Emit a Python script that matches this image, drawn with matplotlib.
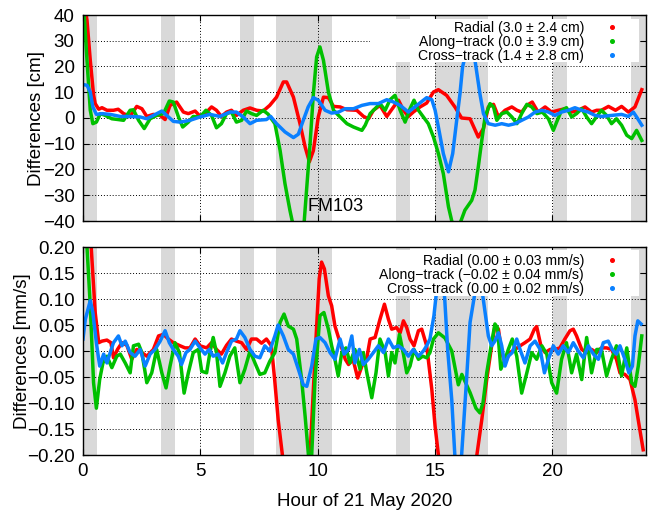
import numpy as np
import matplotlib
matplotlib.use('Agg')
import matplotlib.pyplot as plt
from matplotlib.lines import Line2D
from matplotlib.patches import Rectangle
from matplotlib.ticker import FuncFormatter, MultipleLocator

plt.rcParams['font.family'] = ['Liberation Sans', 'DejaVu Sans']
plt.rcParams['font.size'] = 13.5

# shaded intervals, hours
shade_hours = [(0.0, 0.58), (3.32, 3.92), (6.69, 7.29), (8.23, 10.61),
               (13.34, 13.94), (15.0, 17.26), (20.03, 20.63), (23.36, 24.0)]

# position differences [cm], (hour, value)
pos_radial = [(0, 48), (0.17, 38), (0.31, 22.4), (0.45, 9), (0.52, 5.6), (0.67, 3.4), (0.81, 4.0),
              (1.02, 3), (1.3, 3), (1.5, 3.4), (1.73, 1.7), (2.01, 0.6), (2.29, 4.5), (2.51, 3.6),
              (2.72, 0.6), (3.0, 1.4), (3.29, 1), (3.5, -0.6), (3.71, 4.9), (3.99, 6.2), (4.28, 2.3),
              (4.49, 1.7), (4.78, 2.7), (5.0, 0.6), (5.27, 2.3), (5.48, 4.3), (5.69, 3), (5.9, 0.6),
              (6.12, 2.3), (6.33, 3), (6.54, 1), (6.83, 3), (7.12, 3.9), (7.4, 3), (7.68, 2.7),
              (7.96, 4.9), (8.25, 8.1), (8.54, 14), (8.68, 14), (8.97, 8.1), (9.25, -2.2),
              (9.47, -11.3), (9.65, -17), (9.82, -12.7), (10.03, 0.4), (10.25, 8.1), (10.46, 7.9),
              (10.68, 4.5), (10.96, 4.3), (11.25, 3.2), (11.67, 3), (11.96, 0.6), (12.17, -0.3),
              (12.38, 3), (12.66, 4.9), (12.95, 0.6), (13.24, 4.3), (13.45, 6.9), (13.66, 3),
              (13.87, 0.6), (14.08, 2.3), (14.37, 4.3), (14.65, 5.8), (14.94, 10.1), (15.15, 11),
              (15.5, 8.8), (15.86, 4.2), (16.14, 0), (16.5, -0.3), (16.85, -7.4), (17.07, -4.1),
              (17.28, 4.3), (17.5, 5.3), (17.71, 0.4), (17.99, 3), (18.28, 4.3), (18.5, 3),
              (18.7, 2.3), (18.92, 4.9), (19.15, 6.2), (19.4, 2.3), (19.7, 4.3), (19.98, 2.3),
              (20.26, 3), (20.54, 3.6), (20.83, 2.3), (21.11, 3), (21.4, 4.3), (21.68, 2.3),
              (21.9, 3), (22.1, 3), (22.4, 4.5), (22.7, 3), (22.96, 4.5), (23.25, 2.3),
              (23.53, 4.3), (23.82, 11)]

pos_along = [(0, 48), (0.17, 22.4), (0.31, 3), (0.42, -2.2), (0.57, -1.6), (0.74, 1.7), (0.95, 1),
             (1.23, -0.3), (1.5, -0.6), (1.73, -0.9), (2.01, 3), (2.15, 3.2), (2.37, -0.9),
             (2.61, -4.1), (2.86, -0.3), (3.14, 1), (3.43, 1.7), (3.68, 6.6), (3.85, 6.2),
             (4.07, 0.4), (4.25, -3.5), (4.49, -1.6), (4.7, 0.6), (4.99, 0.4), (5.24, 3), (5.48, 1),
             (5.69, -3.8), (5.9, -2.2), (6.12, 1.7), (6.33, 2.3), (6.54, -1.6), (6.76, -0.9),
             (6.97, 2.7), (7.18, 1.7), (7.4, 1), (7.68, 3), (7.89, 1.5), (8.18, -2.2), (8.4, -12.5),
             (8.61, -25.5), (8.82, -35.8), (8.93, -40.5), (9.15, -48), (9.39, -45), (9.53, -28),
             (9.68, -10), (9.82, 9.4), (9.96, 23.7), (10.1, 27.6), (10.25, 22.4), (10.46, 10.1),
             (10.68, 3), (10.96, 0.4), (11.25, -2.2), (11.53, -3.5), (11.89, -4.8), (12.03, -2.8),
             (12.24, 1.7), (12.45, 3.6), (12.66, 5.6), (12.88, 3), (13.09, 7.1), (13.3, 8.8),
             (13.52, 3), (13.73, -1.6), (13.94, 3.6), (14.11, 6.9), (14.3, 3), (14.51, 0.4),
             (14.72, -2.2), (14.94, -7.4), (15.15, -13.8), (15.36, -21.6), (15.58, -34.5),
             (15.72, -40), (15.9, -45), (16.11, -40), (16.28, -35.8), (16.57, -32), (16.71, -28),
             (16.85, -19), (17.0, -8.7), (17.14, 0.4), (17.35, 5.6), (17.5, 4.3), (17.64, -0.9),
             (17.85, 1.7), (18.07, 2.3), (18.28, 0.4), (18.5, -2.2), (18.7, 1.7), (18.92, 5.3),
             (19.13, 4.3), (19.35, 1.7), (19.58, 2.3), (19.84, -0.3), (20.05, -4.8), (20.19, -1.6),
             (20.4, 3), (20.61, 4), (20.83, 0.4), (21.04, 1.7), (21.26, 3.6), (21.47, 0.4),
             (21.68, -2.2), (21.9, 0.6), (22.1, 3), (22.32, 1), (22.53, -2.2), (22.74, -0.3),
             (22.96, -2.8), (23.18, -6.7), (23.39, -8), (23.6, -4.8), (23.82, -8.7)]

pos_cross = [(0, 13), (0.17, 12.7), (0.31, 10.1), (0.42, 4.3), (0.57, 1.4), (0.81, 1.7), (1.16, 1.4),
             (1.59, 0.6), (2.01, 0.6), (2.44, 0.4), (2.72, -0.3), (3.0, 1), (3.36, 2.7), (3.57, 1),
             (3.85, -1.3), (4.14, -1.6), (4.56, -0.9), (4.99, 0.4), (5.41, 1.4), (5.84, 0.6),
             (6.26, 2.3), (6.54, 2.3), (6.83, 0.4), (7.12, -2.2), (7.4, -0.9), (7.82, -0.6),
             (8.0, 0.6), (8.25, -2.2), (8.61, -5.4), (8.97, -7.6), (9.18, -6.3), (9.39, -0.9),
             (9.6, 4.3), (9.82, 7.9), (10.03, 6.9), (10.32, 3), (10.6, 1.9), (10.89, 2.3),
             (11.18, 3.6), (11.53, 3.6), (11.89, 4.9), (12.24, 5.6), (12.59, 5.6), (12.95, 7.1),
             (13.24, 6.2), (13.52, 4.9), (13.87, 2.3), (14.23, 4.9), (14.65, 7.9), (14.87, 7.1),
             (15.01, 3), (15.15, -3.5), (15.36, -13.8), (15.58, -20.9), (15.76, -13.8),
             (15.93, -0.9), (16.07, 9.4), (16.18, 19.8), (16.45, 30), (16.62, 28), (16.71, 22.4),
             (16.92, 9.4), (17.07, 1.7), (17.28, -2.2), (17.57, -2.8), (17.85, -2.2), (18.14, -2.8),
             (18.42, -2.2), (18.7, -0.9), (18.99, 0.4), (19.27, 2.3), (19.56, 3), (19.84, 2.3),
             (20.12, 1), (20.4, 2.3), (20.69, 3), (20.97, 4), (21.26, 3), (21.54, 2.3), (21.83, 1),
             (22.1, 0.6), (22.53, 1), (22.96, 1.4), (23.25, 0.6), (23.46, 2.3), (23.65, -0.3),
             (23.82, -2.8)]

# velocity differences [mm/s], (hour, value)
vel_radial = [(0, 0.6), (0.2, 0.3), (0.31, 0.23), (0.38, 0.177), (0.52, 0.074), (0.67, 0.016),
              (0.81, 0.019), (1.02, 0.021), (1.19, 0.016), (1.3, -0.013), (1.47, 0.003),
              (1.66, 0.016), (1.87, 0.011), (2.08, -0.016), (2.29, 0.003), (2.51, -0.003),
              (2.72, -0.01), (3.0, 0.003), (3.22, 0.029), (3.43, 0.032), (3.64, 0.023),
              (3.85, 0.016), (4.14, 0.01), (4.35, 0.006), (4.56, 0.006), (4.78, 0.023),
              (4.99, 0.01), (5.27, 0.006), (5.48, 0.016), (5.69, 0.003), (5.9, -0.006),
              (6.12, 0.011), (6.33, 0.023), (6.54, 0.019), (6.76, 0.016), (6.97, 0.003),
              (7.18, 0.023), (7.4, 0.023), (7.61, 0.015), (7.82, 0.023), (8.03, 0.01),
              (8.17, -0.055), (8.32, -0.132), (8.5, -0.2), (8.8, -0.3), (9.1, -0.38), (9.4, -0.33),
              (9.68, -0.2), (9.82, -0.074), (9.96, 0.048), (10.07, 0.139), (10.17, 0.171),
              (10.29, 0.158), (10.46, 0.106), (10.6, 0.087), (10.74, 0.048), (10.96, 0.016),
              (11.18, -0.016), (11.32, -0.026), (11.51, -0.016), (11.71, -0.052), (11.89, -0.029),
              (12.1, -0.013), (12.24, 0.023), (12.45, 0.026), (12.66, 0.061), (12.85, 0.09),
              (13.02, 0.061), (13.16, 0.042), (13.37, 0.045), (13.52, 0.035), (13.66, 0.058),
              (13.8, 0.045), (13.94, 0.023), (14.11, 0.01), (14.3, 0.039), (14.44, 0.042),
              (14.65, 0.01), (14.87, -0.074), (15.01, -0.145), (15.15, -0.2), (15.5, -0.35),
              (16.0, -0.45), (16.5, -0.35), (16.79, -0.2), (17.0, -0.132), (17.21, -0.055),
              (17.42, 0.01), (17.56, 0.048), (17.71, 0.042), (17.85, -0.003), (17.99, -0.023),
              (18.2, -0.003), (18.42, 0.003), (18.63, 0.01), (18.84, 0.016), (19.06, 0.023),
              (19.24, 0.042), (19.34, 0.047), (19.52, 0.01), (19.7, -0.003), (19.91, 0.003),
              (20.12, 0.003), (20.33, 0.006), (20.54, 0.023), (20.76, 0.039), (20.9, 0.042),
              (21.04, 0.029), (21.26, 0.003), (21.47, -0.003), (21.68, 0.003), (21.9, -0.003),
              (22.1, 0.006), (22.32, 0.006), (22.53, 0.003), (22.74, -0.016), (22.89, -0.042),
              (23.1, -0.045), (23.32, -0.055), (23.53, -0.094), (23.74, -0.152), (23.88, -0.19)]

vel_along = [(0, 0.35), (0.17, 0.2), (0.31, 0.087), (0.45, -0.061), (0.57, -0.11), (0.71, -0.055),
             (0.85, -0.023), (1.02, -0.01), (1.23, -0.032), (1.44, -0.01), (1.59, -0.006),
             (1.8, -0.023), (2.01, -0.042), (2.15, 0.01), (2.37, 0.013), (2.51, -0.003),
             (2.72, -0.061), (2.93, -0.042), (3.14, 0.003), (3.36, -0.042), (3.54, -0.071),
             (3.71, -0.029), (3.92, 0.016), (4.11, -0.003), (4.31, -0.081), (4.49, -0.042),
             (4.7, -0.003), (4.92, 0.003), (5.06, -0.039), (5.27, -0.042), (5.41, -0.003),
             (5.55, 0.026), (5.69, -0.003), (5.84, -0.068), (6.05, -0.042), (6.26, -0.01),
             (6.47, 0.006), (6.69, -0.061), (6.9, -0.035), (7.12, 0.0), (7.33, -0.023),
             (7.54, -0.045), (7.75, -0.042), (7.96, -0.02), (8.18, -0.003), (8.4, 0.055),
             (8.57, 0.071), (8.75, 0.048), (8.97, 0.042), (9.11, 0.023), (9.32, -0.055),
             (9.47, -0.126), (9.61, -0.2), (9.68, -0.23), (9.75, -0.2), (9.89, -0.055),
             (10.1, 0.068), (10.27, 0.074), (10.46, 0.042), (10.6, 0.01), (10.74, -0.016),
             (10.88, -0.048), (11.03, -0.003), (11.21, 0.006), (11.38, -0.023), (11.59, 0.003),
             (11.81, -0.035), (11.95, -0.003), (12.1, -0.042), (12.31, -0.09), (12.49, -0.042),
             (12.66, 0.023), (12.88, -0.003), (13.02, -0.048), (13.16, -0.003), (13.3, -0.023),
             (13.49, 0.032), (13.66, -0.006), (13.8, -0.042), (13.94, -0.029), (14.11, 0.003),
             (14.3, -0.016), (14.48, -0.01), (14.65, -0.013), (14.79, -0.003), (14.94, 0.023),
             (15.15, 0.035), (15.43, 0.025), (15.72, 0.0), (16.0, -0.065), (16.15, -0.045),
             (16.5, -0.08), (16.75, -0.11), (16.92, -0.119), (17.05, -0.1), (17.21, -0.042),
             (17.42, 0.016), (17.56, 0.052), (17.67, 0.045), (17.81, -0.035), (17.99, -0.016),
             (18.13, 0.003), (18.3, 0.023), (18.49, -0.01), (18.7, -0.081), (18.92, -0.042),
             (19.13, -0.003), (19.34, -0.016), (19.56, 0.01), (19.77, -0.006), (19.98, -0.061),
             (20.19, -0.081), (20.4, -0.016), (20.61, 0.016), (20.83, -0.042), (21.04, -0.006),
             (21.26, -0.055), (21.47, 0.026), (21.68, -0.042), (21.9, 0.003), (22.1, 0.003),
             (22.32, -0.048), (22.53, -0.016), (22.74, 0.01), (22.96, -0.048), (23.18, 0.006),
             (23.39, -0.061), (23.53, -0.068), (23.67, -0.029), (23.82, 0.029)]

vel_cross = [(0, 0.023), (0.1, 0.061), (0.31, 0.097), (0.42, 0.074), (0.57, 0.016), (0.71, -0.029),
             (0.88, -0.006), (1.02, -0.023), (1.16, -0.003), (1.3, 0.016), (1.51, 0.029),
             (1.66, 0.01), (1.8, 0.019), (2.01, -0.003), (2.22, -0.01), (2.44, 0.003),
             (2.65, -0.029), (2.86, -0.006), (3.07, 0.003), (3.29, 0.019), (3.5, 0.039),
             (3.68, 0.016), (3.85, 0.003), (4.06, -0.01), (4.2, -0.026), (4.39, -0.003),
             (4.56, 0.003), (4.78, 0.019), (4.99, 0.006), (5.2, -0.006), (5.38, 0.003),
             (5.55, -0.01), (5.76, -0.006), (5.95, -0.023), (6.12, -0.003), (6.33, 0.019),
             (6.54, 0.023), (6.69, 0.039), (6.9, 0.026), (7.12, 0.003), (7.33, -0.01),
             (7.54, -0.013), (7.75, 0.01), (7.96, 0.0), (8.18, 0.029), (8.32, 0.05), (8.54, 0.029),
             (8.75, 0.003), (8.97, -0.006), (9.18, -0.035), (9.39, -0.065), (9.54, -0.068),
             (9.75, -0.029), (9.93, 0.023), (10.1, 0.026), (10.32, 0.016), (10.53, -0.003),
             (10.74, -0.016), (10.96, 0.023), (11.13, -0.006), (11.32, 0.003), (11.46, 0.029),
             (11.59, -0.023), (11.78, 0.003), (11.95, -0.026), (12.16, -0.016), (12.38, -0.003),
             (12.59, 0.01), (12.81, -0.003), (13.02, 0.023), (13.23, 0.006), (13.44, 0.01),
             (13.66, 0.003), (13.87, -0.01), (14.08, 0.003), (14.3, -0.01), (14.51, 0.0),
             (14.65, 0.01), (14.79, 0.023), (14.96, 0.068), (15.08, 0.119), (15.25, 0.19),
             (15.42, 0.1), (15.55, 0.0), (15.72, -0.094), (15.85, -0.2), (15.96, -0.25),
             (16.14, -0.2), (16.35, -0.055), (16.5, 0.055), (16.7, 0.11), (16.85, 0.19),
             (17.0, 0.12), (17.2, 0.054), (17.28, 0.029), (17.42, 0.01), (17.56, 0.019),
             (17.71, 0.035), (17.85, 0.01), (17.99, -0.029), (18.13, -0.01), (18.3, -0.003),
             (18.49, 0.023), (18.63, 0.003), (18.84, -0.023), (19.06, 0.01), (19.27, 0.019),
             (19.49, 0.003), (19.67, -0.042), (19.84, -0.016), (20.05, 0.01), (20.26, -0.006),
             (20.47, 0.01), (20.69, -0.003), (20.9, 0.016), (21.11, 0.0), (21.33, -0.013),
             (21.54, 0.01), (21.76, -0.006), (21.97, -0.016), (22.18, 0.016), (22.39, 0.019),
             (22.56, 0.003), (22.74, -0.006), (22.89, 0.01), (23.1, -0.016), (23.27, -0.042),
             (23.42, -0.029), (23.53, 0.029), (23.65, 0.058), (23.79, 0.052)]

pos_labels = ['Radial (3.0 \u00b1 2.4 cm)', 'Along\u2212track (0.0 \u00b1 3.9 cm)',
              'Cross\u2212track (1.4 \u00b1 2.8 cm)']
vel_labels = ['Radial (0.00 \u00b1 0.03 mm/s)', 'Along\u2212track (\u22120.02 \u00b1 0.04 mm/s)',
              'Cross\u2212track (0.00 \u00b1 0.02 mm/s)']
colors = ['#ff0000', '#00c000', '#0a80ff']


def draw_panel(ax, series, labels, ylim, ystep, box, anchor):
    for a, b in shade_hours:
        ax.axvspan(a, b, color='#d9d9d9', lw=0, zorder=0.1)
    for s, c in zip(series, colors):
        arr = np.array(s)
        ax.plot(arr[:, 0], arr[:, 1], color=c, lw=2.5, zorder=2, solid_joinstyle='round')
    ax.set_xlim(0, 24)
    ax.set_ylim(*ylim)
    ax.xaxis.set_major_locator(MultipleLocator(5))
    ax.yaxis.set_major_locator(MultipleLocator(ystep))
    ax.set_axisbelow(True)
    ax.grid(True, color='k', ls=(0, (1, 2)), lw=0.7)
    ax.tick_params(direction='in', top=True, right=True, length=4, width=0.8, pad=6)
    for sp in ax.spines.values():
        sp.set_linewidth(1.0)

    # opaque key area
    ax.add_patch(Rectangle((box[0], box[1]), box[2] - box[0], box[3] - box[1],
                           transform=ax.transAxes, fc='white', ec='none', zorder=5))
    handles = [Line2D([], [], ls='none', marker='o', ms=2.6, color=c) for c in colors]
    leg = ax.legend(handles, labels, loc='upper right', bbox_to_anchor=anchor,
                    frameon=False, markerfirst=False, handlelength=1.0, fontsize=10.1,
                    handletextpad=1.5, labelspacing=0.0, borderpad=0, borderaxespad=0)
    leg.set_zorder(6)
    for col in leg._legend_handle_box.get_children():
        col.align = 'right'


fig = plt.figure(figsize=(6.54, 5.11), dpi=100)
ax1 = fig.add_axes([83 / 654, 1 - 221 / 511, 563 / 654, 206 / 511])
ax2 = fig.add_axes([83 / 654, 1 - 455 / 511, 563 / 654, 208 / 511])

draw_panel(ax1, [pos_radial, pos_along, pos_cross], pos_labels, (-40, 40), 10,
           (0.510, 0.772, 0.988, 0.981), (0.952, 0.972))
draw_panel(ax2, [vel_radial, vel_along, vel_cross], vel_labels, (-0.2, 0.2), 0.05,
           (0.442, 0.764, 0.988, 0.986), (0.952, 0.966))

ax1.tick_params(labelbottom=False)
ax1.text(9.55, -34.5, 'FM103', ha='left', va='center', fontsize=13, zorder=4)
ax1.set_ylabel('Differences [cm]', labelpad=-2)

ax2.yaxis.set_major_formatter(FuncFormatter(
    lambda v, p: ('%.2f' % (round(v, 6) + 0.0)).replace('-', '\u2212')))
ax2.set_ylabel('Differences [mm/s]', labelpad=-3)
ax2.set_xlabel('Hour of 21 May 2020', labelpad=9)

fig.savefig('out.png', dpi=100)
